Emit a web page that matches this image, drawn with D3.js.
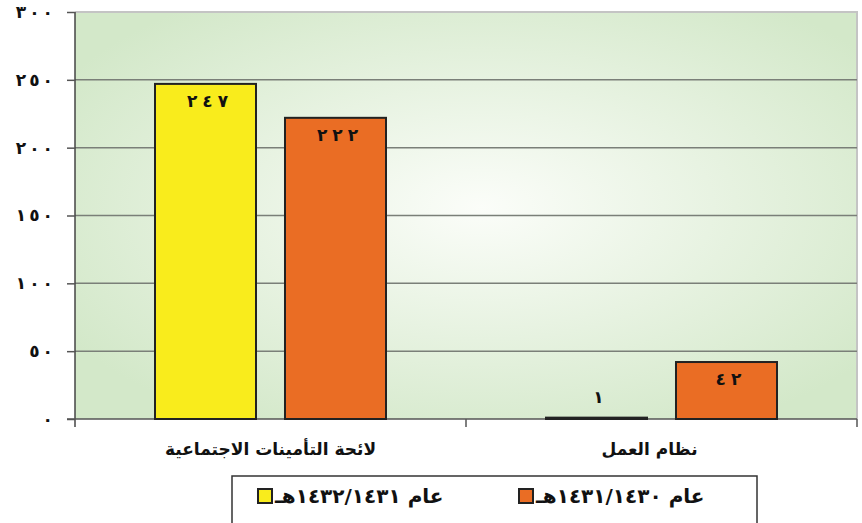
<!DOCTYPE html>
<html>
<head>
    <meta charset="UTF-8">
    <title>Bar chart</title>
    <script src="https://cdn.jsdelivr.net/npm/d3@7"></script>
    <style>
        body { margin: 0; background: #fff; }
        text { font-family: "DejaVu Sans", sans-serif; font-weight: bold; fill: #111; }
    </style>
</head>
<body>
<script>
    const categories = ['لائحة التأمينات الاجتماعية', 'نظام العمل'];
    const series = ['عام ١٤٣١\u200F/\u200F١٤٣٢هـ', 'عام ١٤٣٠\u200F/\u200F١٤٣١هـ'];
    const values2 = [247, 1];   // 1431/1432
    const values1 = [222, 42];  // 1430/1431
    const seriesValues = [values2, values1];
    const colors = ['#f9ec1c', '#ea6d24'];
    const yTicks = [0, 50, 100, 150, 200, 250, 300];

    const toArabic = n => String(n).replace(/\d/g, d => '٠١٢٣٤٥٦٧٨٩'[d]);

    // arabic digits ignore letter-spacing, so space them with tspans
    function spaced(sel, gap) {
        sel.each(function (d) {
            const t = d3.select(this);
            const s = t.text();
            t.text(null);
            t.selectAll('tspan')
                .data(Array.from(s))
                .join('tspan')
                .attr('dx', (c, i) => i ? gap : 0)
                .text(c => c);
        });
    }

    const width = 862, height = 523;
    const mLeft = 75, mRight = 857, mTop = 12, mBottom = 419;

    const svg = d3.select('body').append('svg')
        .attr('width', width)
        .attr('height', height);

    const defs = svg.append('defs');
    const grad = defs.append('radialGradient')
        .attr('id', 'bg')
        .attr('cx', '52%').attr('cy', '48%').attr('r', '62%');
    grad.append('stop').attr('offset', '0%').attr('stop-color', '#fbfdf9');
    grad.append('stop').attr('offset', '100%').attr('stop-color', '#d3e8c9');

    const x0 = d3.scaleBand().domain(categories).range([mLeft, mRight]);
    const x1 = d3.scaleBand().domain(series).range([80, 311]).paddingInner(0.223);
    const y = d3.scaleLinear().domain([0, 300]).range([mBottom, mTop]);

    svg.append('rect')
        .attr('x', mLeft).attr('y', mTop)
        .attr('width', mRight - mLeft).attr('height', mBottom - mTop)
        .attr('fill', 'url(#bg)');

    // light border top/right
    svg.append('path')
        .attr('d', `M${mLeft},${mTop}H${mRight}V${mBottom}`)
        .attr('fill', 'none')
        .attr('stroke', '#c4c4c4')
        .attr('stroke-width', 2);

    // gridlines
    svg.append('g')
        .selectAll('line')
        .data(yTicks.filter(t => t > 0 && t < 300))
        .join('line')
        .attr('x1', mLeft).attr('x2', mRight)
        .attr('y1', d => y(d)).attr('y2', d => y(d))
        .attr('stroke', '#7a7f78')
        .attr('stroke-width', 1.5);

    // y axis
    const yAxis = svg.append('g')
        .attr('transform', `translate(${mLeft},0)`)
        .call(d3.axisLeft(y).tickValues(yTicks).tickSize(8).tickPadding(14).tickFormat(toArabic));
    yAxis.select('.domain').attr('d', `M0,${mTop}V${mBottom + 8}`).attr('stroke', '#444').attr('stroke-width', 1.5);
    yAxis.selectAll('.tick line').attr('stroke', '#555').attr('stroke-width', 1.5);
    yAxis.selectAll('.tick text')
        .attr('font-size', 17)
        .attr('fill', '#111')
        .call(spaced, 3);

    // x axis
    const xAxis = svg.append('g')
        .attr('transform', `translate(0,${mBottom})`);
    xAxis.append('line')
        .attr('x1', mLeft - 8).attr('x2', mRight)
        .attr('stroke', '#555').attr('stroke-width', 1.5);
    xAxis.selectAll('.cat-tick')
        .data(categories)
        .join('line')
        .attr('class', 'cat-tick')
        .attr('x1', d => x0(d) + x0.bandwidth()).attr('x2', d => x0(d) + x0.bandwidth())
        .attr('y1', 0).attr('y2', 8)
        .attr('stroke', '#555').attr('stroke-width', 1.5);
    xAxis.selectAll('.cat-label')
        .data(categories)
        .join('text')
        .attr('class', 'cat-label')
        .attr('x', (d, i) => x0(d) + x0.bandwidth() / 2 - (i ? 12 : 0))
        .attr('y', 36)
        .attr('text-anchor', 'middle')
        .attr('font-size', 17)
        .text(d => d);

    // bars
    const groups = svg.append('g')
        .selectAll('g')
        .data(categories)
        .join('g')
        .attr('transform', d => `translate(${x0(d)},0)`);

    groups.selectAll('rect')
        .data((d, i) => series.map((s, j) => ({ s, j, v: seriesValues[j][i] })))
        .join('rect')
        .attr('x', d => x1(d.s))
        .attr('width', x1.bandwidth())
        .attr('y', d => y(d.v))
        .attr('height', d => y(0) - y(d.v))
        .attr('fill', d => colors[d.j])
        .attr('stroke', '#222')
        .attr('stroke-width', 2);

    groups.selectAll('text')
        .data((d, i) => series.map((s, j) => ({ s, j, v: seriesValues[j][i] })))
        .join('text')
        .attr('x', d => x1(d.s) + x1.bandwidth() / 2 + 2)
        .attr('y', d => (y(0) - y(d.v)) > 25 ? y(d.v) + 23 : y(d.v) - 15)
        .attr('text-anchor', 'middle')
        .attr('font-size', 17)
        .text(d => toArabic(d.v))
        .call(spaced, 5);

    // legend
    const legend = svg.append('g');
    legend.append('rect')
        .attr('x', 232).attr('y', 476)
        .attr('width', 525).attr('height', 60)
        .attr('fill', '#fff')
        .attr('stroke', '#333')
        .attr('stroke-width', 1.5);

    const legendX = [258, 519];
    const items = legend.selectAll('.item')
        .data(series)
        .join('g')
        .attr('class', 'item')
        .attr('transform', (d, i) => `translate(${legendX[i]},489)`);
    items.append('rect')
        .attr('width', 14).attr('height', 14)
        .attr('fill', (d, i) => colors[i])
        .attr('stroke', '#222')
        .attr('stroke-width', 2);
    items.append('text')
        .attr('x', 17).attr('y', 14)
        .attr('direction', 'rtl')
        .attr('text-anchor', 'end')
        .attr('font-size', 20)
        .text(d => d);
</script>
</body>
</html>
